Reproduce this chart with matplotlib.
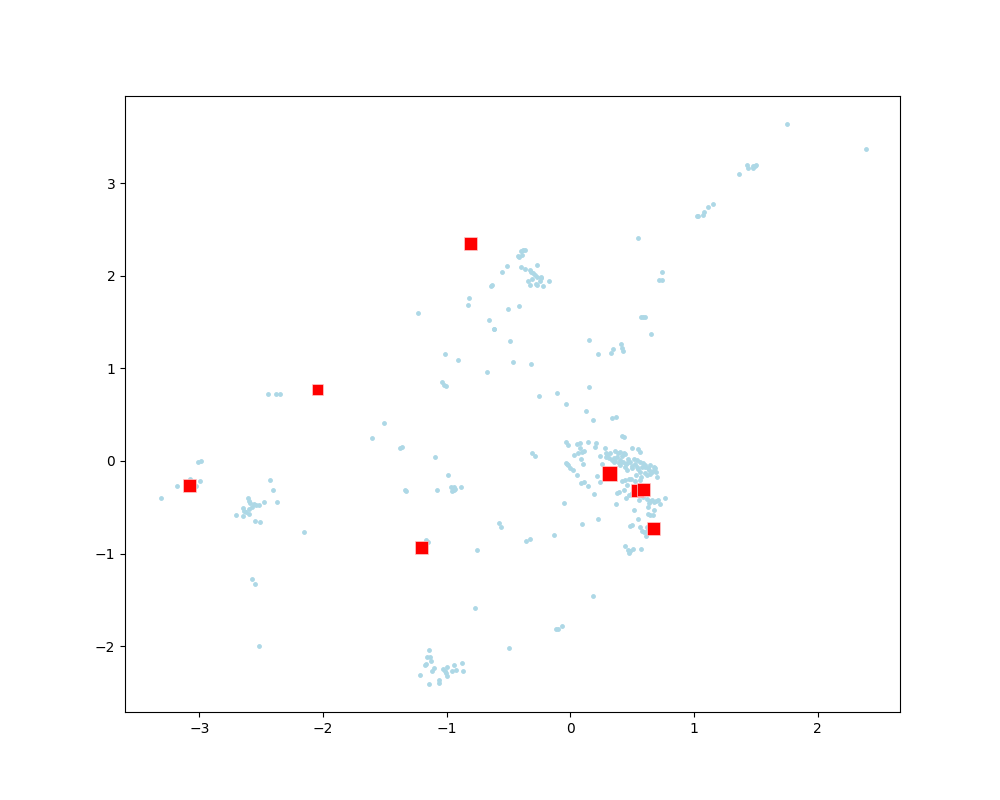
import matplotlib
matplotlib.use("Agg")
import matplotlib.pyplot as plt

# Light-blue sample points
points_x = [
    -0.515, -0.555, -0.64, -0.635, -0.82, -0.83, -1.235, -0.50, -0.66, -0.62, -0.615, -0.49,
    -1.016, -0.905, -0.67, -0.46, -1.035, -1.024, -1.005, -2.44, -2.38, -2.35,
    1.749, 2.387, 1.425, 1.44, 1.48, 1.50, 1.48, 1.49, 1.366, 1.15, 1.11, 1.078, 1.07, 1.024, 1.03,
    0.544, 0.738, 0.714, 0.741, 0.571, 0.59, 0.605, 0.65, 0.148, 0.22, 0.326, 0.342, 0.407, 0.415, 0.423,
    -0.32, -0.418, 0.148, -0.11, -0.256, -0.038,
    -0.40, -0.38, -0.37, -0.426, -0.415, -0.39, -0.27, -0.40, -0.37,
    -0.33, -0.32, -0.30, -0.285, -0.27, -0.24, -0.237, -0.248,
    -0.34, -0.31, -0.33, -0.275, -0.27, -0.224, -0.175,
    -1.51, -1.60, -1.38, -1.364, -1.097, -0.986, -1.336, -1.33, -1.08,
    -0.962, -0.943, -0.93, -0.956, -0.94, -0.887, -0.58, -0.563, -0.757, -1.167, -1.15,
    -0.774, -0.499,
    -3.31, -3.18, -3.007, -2.989, -2.997, -3.078, -3.023,
    -2.43, -2.407, -2.374, -2.48,
    -2.609, -2.597, -2.589, -2.56, -2.54, -2.52, -2.573, -2.595, -2.649, -2.64, -2.625, -2.60,
    -2.706, -2.649, -2.552, -2.512, -2.156, -2.576, -2.552, -2.52,
    -1.145, -1.16, -1.137, -1.13, -1.17, -1.178, -1.105, -1.12, -1.218, -1.145, -1.065, -1.062,
    -1.032, -1.016, -1.0, -1.008, -0.997, -0.96, -0.94, -0.927, -0.879, -0.871,
    0.124, 0.18, 0.334, 0.372, 0.415, 0.437, -0.307, -0.283, -0.038, -0.02,
    0.054, 0.081, 0.075, 0.113, 0.14, 0.205, 0.197,
    0.027, 0.059, 0.083, 0.10, 0.091, -0.032, -0.019, -0.006, -0.027, 0.019, 0.051,
    0.089, 0.108, 0.14, 0.189, 0.213, 0.237, -0.054, 0.091, 0.221, -0.135, -0.356, -0.329,
    0.18, -0.116, -0.097, -0.065,
    0.277, 0.291, 0.323, 0.358, 0.383, 0.404, 0.431, 0.445, 0.499, 0.544, 0.566,
    0.243, 0.286, 0.310, 0.337, 0.377, 0.404, 0.426, 0.458, 0.485, 0.512, 0.539, 0.566,
    0.587, 0.606, 0.647, 0.674, 0.687,
    0.256, 0.350, 0.391, 0.445, 0.458, 0.499, 0.539, 0.566, 0.606, 0.633, 0.660, 0.701, 0.620,
    0.418, 0.445, 0.472, 0.491, 0.525, 0.566, 0.458, 0.437, 0.377, 0.396, 0.447, 0.474, 0.501,
    0.552, 0.585,
    0.620, 0.641, 0.660, 0.674, 0.695, 0.706, 0.728, 0.762, 0.633, 0.625, 0.679, 0.625, 0.647, 0.668,
    0.512, 0.544, 0.480, 0.501, 0.560, 0.579, 0.593, 0.614, 0.620, 0.620,
    0.439, 0.463, 0.472, 0.485, 0.507, 0.571, 0.366,
    0.30, 0.35, 0.42, 0.47, 0.52, 0.58, 0.63, 0.68,
    0.36, 0.40, 0.45, 0.50, 0.55, 0.60, 0.64, 0.69, 0.53, 0.57,
]
points_y = [
    2.11, 2.04, 1.89, 1.90, 1.76, 1.68, 1.595, 1.64, 1.52, 1.42, 1.42, 1.30,
    1.16, 1.087, 0.96, 1.066, 0.85, 0.82, 0.81, 0.72, 0.72, 0.72,
    3.636, 3.366, 3.19, 3.16, 3.18, 3.20, 3.16, 3.18, 3.10, 2.77, 2.74, 2.69, 2.65, 2.64, 2.64,
    2.405, 2.04, 1.95, 1.95, 1.55, 1.55, 1.55, 1.37, 1.31, 1.15, 1.17, 1.206, 1.26, 1.217, 1.185,
    1.044, 1.67, 0.796, 0.73, 0.70, 0.615,
    2.27, 2.275, 2.275, 2.21, 2.20, 2.22, 2.12, 2.09, 2.07,
    2.06, 2.04, 2.03, 2.005, 1.99, 1.99, 1.98, 1.94,
    1.94, 1.96, 1.90, 1.915, 1.90, 1.886, 1.94,
    0.407, 0.245, 0.14, 0.148, 0.04, -0.155, -0.316, -0.32, -0.316,
    -0.284, -0.277, -0.30, -0.324, -0.313, -0.284, -0.673, -0.716, -0.964, -0.856, -0.871,
    -1.59, -2.02,
    -0.40, -0.273, -0.014, -0.003, -0.22, -0.19, -0.273,
    -0.21, -0.316, -0.446, -0.446,
    -0.403, -0.428, -0.457, -0.468, -0.478, -0.472, -0.493, -0.52, -0.51, -0.536, -0.55, -0.576,
    -0.586, -0.597, -0.651, -0.662, -0.77, -1.274, -1.33, -2.00,
    -2.044, -2.12, -2.12, -2.163, -2.195, -2.206, -2.23, -2.27, -2.314, -2.41, -2.368, -2.40,
    -2.25, -2.27, -2.22, -2.29, -2.32, -2.265, -2.206, -2.257, -2.185, -2.27,
    0.537, 0.44, 0.46, 0.47, 0.27, 0.256, 0.083, 0.05, 0.20, 0.17,
    0.18, 0.198, 0.144, 0.111, 0.20, 0.198, 0.154,
    0.06, 0.083, 0.018, -0.036, 0.094, -0.018, -0.046, -0.072, -0.029, -0.10, -0.155,
    -0.238, -0.227, -0.273, -0.36, -0.165, -0.23, -0.457, -0.684, -0.63, -0.80, -0.867, -0.846,
    -1.46, -1.818, -1.81, -1.78,
    0.137, 0.090, 0.090, 0.108, 0.083, 0.094, 0.083, 0.072, 0.137, 0.126, 0.094,
    0.057, 0.046, 0.029, 0.011, 0.040, 0.011, -0.007, -0.025, -0.007, 0.018, 0.011, -0.007,
    -0.025, -0.043, -0.043, -0.061, -0.079,
    -0.032, -0.011, -0.025, -0.061, -0.097, -0.079, -0.061, -0.115, -0.126, -0.097, -0.115, -0.176, -0.151,
    -0.216, -0.205, -0.198, -0.198, -0.212, -0.205, -0.259, -0.313, -0.342, -0.331, -0.400, -0.371, -0.346,
    -0.421, -0.385,
    -0.414, -0.428, -0.421, -0.439, -0.428, -0.421, -0.464, -0.403, -0.457, -0.500, -0.529, -0.572, -0.583, -0.587,
    -0.533, -0.630, -0.702, -0.688, -0.716, -0.752, -0.763, -0.810, -0.752, -0.709,
    -0.918, -0.961, -0.997, -0.968, -0.954, -0.954, -0.468,
    0.06, 0.03, 0.05, 0.02, -0.03, -0.07, -0.08, -0.10,
    0.00, -0.04, -0.03, -0.05, -0.09, -0.06, -0.14, -0.12, -0.15, -0.17,
]

# Red square centres
center_x = [-0.806, -2.043, -3.078, -1.202, 0.318, 0.544, 0.593, 0.674]
center_y = [2.35, 0.774, -0.262, -0.932, -0.133, -0.321, -0.306, -0.727]
center_weight = [90, 62, 90, 90, 125, 90, 90, 90]

fig, ax = plt.subplots(figsize=(10, 8), dpi=100)
ax.scatter(points_x, points_y, s=7, c="lightblue", linewidths=0.8, edgecolors="lightblue")
ax.scatter(center_x, center_y, s=center_weight, c="red", marker="s", linewidths=0.5, edgecolors="#ffcccc")
ax.set_xlim(-3.60, 2.665)
ax.set_ylim(-2.71, 3.94)
fig.savefig("out.png", dpi=100)
